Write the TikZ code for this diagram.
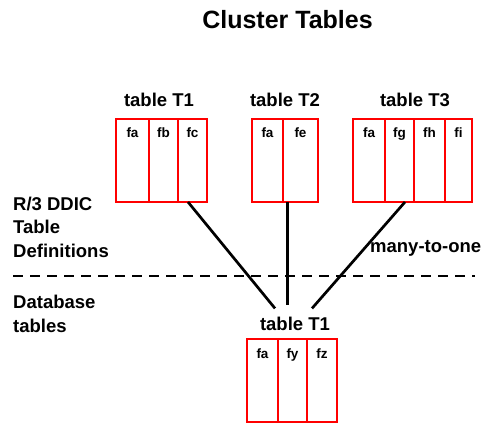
\documentclass[tikz,border=0pt]{standalone}
\usepackage{fontspec}
\setmainfont{Liberation Sans}
\usetikzlibrary{calc}

\begin{document}
\begin{tikzpicture}[x=1pt, y=-1pt,
    cell/.style={draw=red, line width=2.8pt, minimum height=83pt, inner sep=0pt, outer sep=0pt, anchor=north west},
    field/.style={font=\fontsize{13.5}{15}\selectfont\bfseries, anchor=base, inner sep=0pt, yshift=-19pt},
    heading/.style={font=\fontsize{18.5}{23.5}\selectfont\bfseries, inner sep=0pt},
    link/.style={line width=2.7pt}]
        \useasboundingbox (0, 0) rectangle (500, 430);

        \newcommand{\tablecell}[5]{
            \node[cell, minimum width=#4] (#1) at (#2, #3) {};
            \node[field] at (#1.north) {#5};
        }

        \node[heading, font=\fontsize{25}{30}\selectfont\bfseries, anchor=base] (title) at (287.5, 29) {Cluster Tables};

        \node[heading, anchor=base] (labA) at (159, 107) {table T1};
        \tablecell{t1a}{116}{119}{33}{fa}
        \tablecell{t1b}{149}{119}{29}{fb}
        \tablecell{t1c}{178}{119}{29}{fc}

        \node[heading, anchor=base] (labB) at (285, 107) {table T2};
        \tablecell{t2a}{252}{119}{31}{fa}
        \tablecell{t2b}{283}{119}{35}{fe}

        \node[heading, anchor=base] (labC) at (415, 107) {table T3};
        \tablecell{t3a}{353}{119}{32}{fa}
        \tablecell{t3b}{385}{119}{29}{fg}
        \tablecell{t3c}{414}{119}{31}{fh}
        \tablecell{t3d}{445}{119}{27}{fi}

        \node[heading, anchor=base] (labDB) at (295, 330) {table T1};
        \tablecell{dba}{247}{339}{31}{fa}
        \tablecell{dbb}{278}{339}{29}{fy}
        \tablecell{dbc}{307}{339}{30}{fz}

        \node[heading, align=left, anchor=base west] (ddic) at (13, 257) {R/3 DDIC\\Table\\Definitions};
        \node[heading, align=left, anchor=base west] (dbtab) at (13, 332) {Database\\tables};
        \node[heading, anchor=base west] (many) at (370, 252) {many-to-one};

        \coordinate (sepL) at (13, 276);
        \coordinate (sepR) at (475, 276);
        \draw[line width=2.7pt, dash pattern=on 10pt off 7pt] (sepL) -- (sepR);

        \draw[link] ($(t1c.south)+(-4.5, 0)$) -- ($(labDB.north)+(-20, -8)$);
        \draw[link] ($(t2b.south west)+(4.5, 0)$) -- ($(labDB.north)+(-7.5, -11)$);
        \draw[link] ($(t3b.south)+(5.5, 0)$) -- ($(labDB.north)+(17, -8)$);
    \end{tikzpicture}
\end{document}
